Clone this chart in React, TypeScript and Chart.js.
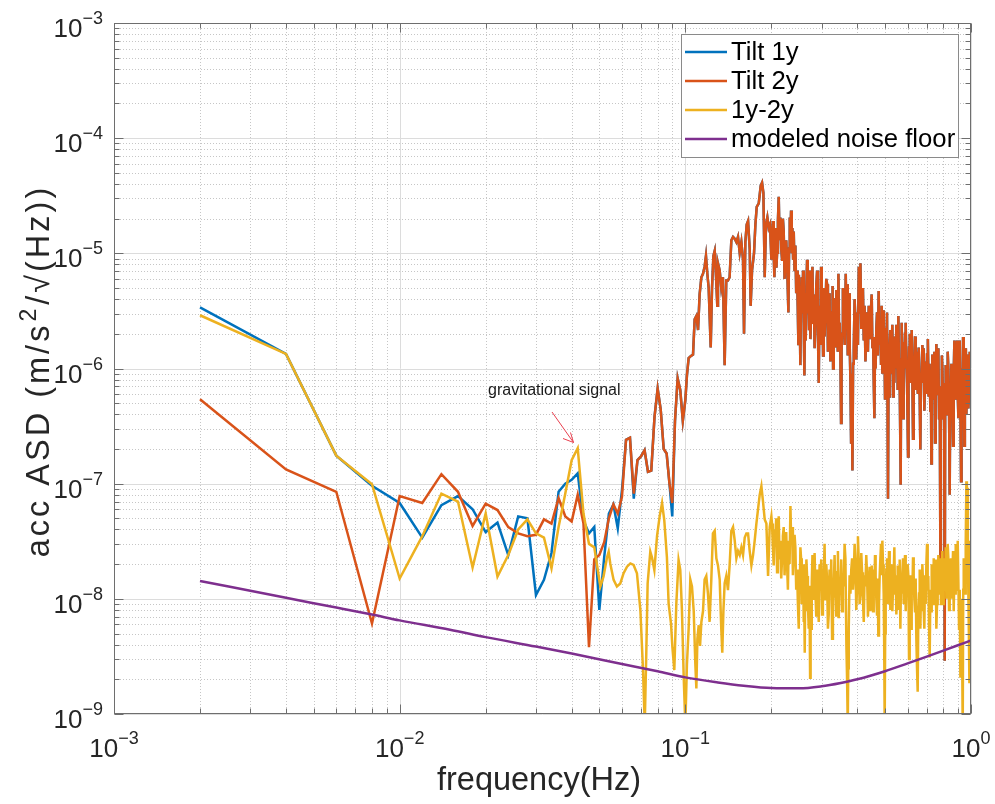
import { useEffect, useRef } from "react";
import { Chart, registerables } from "chart.js";

Chart.register(...registerables);

const FONT = '"Liberation Sans", Arial, Helvetica, sans-serif';

// ---------- data (frequency in Hz, ASD in m/s^2/sqrt(Hz)) ----------
const lowFreq = [
  0.002, 0.004, 0.006, 0.008, 0.01, 0.012, 0.014, 0.016, 0.018, 0.02,
  0.022, 0.024, 0.026, 0.028, 0.03, 0.032, 0.034, 0.036, 0.038, 0.04,
  0.042, 0.044, 0.046, 0.048, 0.05, 0.052, 0.054, 0.056, 0.058, 0.06,
  0.062, 0.064, 0.066, 0.068, 0.07, 0.072, 0.074, 0.076, 0.078, 0.08,
  0.082, 0.084, 0.086, 0.088, 0.09, 0.092, 0.094, 0.096, 0.098, 0.1,
];

const tilt1Low = [
  3.4e-6, 1.34e-6, 1.75e-7, 9.6e-8, 6.8e-8, 3.4e-8, 6.5e-8, 7.8e-8, 6.0e-8, 3.8e-8,
  4.6e-8, 2.4e-8, 5.2e-8, 5.0e-8, 1.08e-8, 1.46e-8, 2.5e-8, 8.5e-8, 1.0e-7, 1.08e-7,
  1.23e-7, 4.8e-8, 3.7e-8, 4.2e-8, 8.0e-9, 2.3e-8, 5.5e-8, 6.6e-8, 4.1e-8, 8.8e-8,
  2.4e-7, 2.5e-7, 7.4e-8, 1.6e-7, 1.73e-7, 1.95e-7, 1.27e-7, 1.3e-7, 3.8e-7, 6.7e-7,
  4.4e-7, 2.0e-7, 1.83e-7, 1.0e-7, 5.2e-8, 3.5e-7, 8.2e-7, 6.5e-7, 3.5e-7, 5.3e-7,
];

const tilt2Low = [
  5.4e-7, 1.33e-7, 8.5e-8, 6.1e-9, 7.8e-8, 6.8e-8, 1.21e-7, 8.5e-8, 4.3e-8, 6.7e-8,
  5.9e-8, 4.2e-8, 3.7e-8, 3.5e-8, 3.6e-8, 4.9e-8, 4.5e-8, 7.5e-8, 5.2e-8, 4.7e-8,
  8.0e-8, 4.5e-8, 3.8e-9, 2.2e-8, 2.4e-8, 3.1e-8, 5.0e-8, 6.6e-8, 5.5e-8, 7.7e-8,
  2.4e-7, 2.5e-7, 8.2e-8, 1.6e-7, 1.73e-7, 1.95e-7, 1.27e-7, 1.3e-7, 3.8e-7, 6.7e-7,
  4.4e-7, 2.0e-7, 1.83e-7, 1.0e-7, 6.8e-8, 3.5e-7, 8.2e-7, 6.5e-7, 3.5e-7, 5.3e-7,
];

// high-frequency part (Tilt 1y and Tilt 2y coincide above 0.1 Hz)
const highFreq = [
  0.1013, 0.1027, 0.1044, 0.1064, 0.1078, 0.1093, 0.1108, 0.1122, 0.1138, 0.1153,
  0.1168, 0.1181, 0.1194, 0.1207, 0.1227, 0.124, 0.1254, 0.1267, 0.1281, 0.1294,
  0.1301, 0.1319, 0.1336, 0.1354, 0.1373, 0.1391, 0.141, 0.1429, 0.1449, 0.1469,
  0.1489, 0.1509, 0.1529, 0.155, 0.1571, 0.1592, 0.1605, 0.1622, 0.164, 0.1658,
  0.168, 0.1693, 0.1712, 0.174, 0.1759, 0.1778, 0.1807, 0.1836, 0.1856, 0.1876,
  0.1896, 0.1916, 0.1937, 0.1958, 0.1979,
  0.2001, 0.2014, 0.2028, 0.2039, 0.205, 0.2061, 0.2072, 0.2084, 0.2095, 0.2109,
  0.2123, 0.2137, 0.2151, 0.2166, 0.2181, 0.2195, 0.221, 0.2225, 0.224, 0.2255,
  0.2271, 0.2283, 0.2295, 0.2308, 0.232, 0.2333, 0.2345, 0.2358, 0.237, 0.2383,
  0.2396, 0.2412, 0.2428, 0.2444, 0.2461, 0.2474, 0.2487, 0.2497, 0.2507, 0.2517,
  0.2527, 0.2541, 0.2555, 0.2569, 0.2583, 0.2597, 0.2611, 0.2625, 0.2639, 0.2653,
  0.2668, 0.2682, 0.2697, 0.2711, 0.2726, 0.2741, 0.2756, 0.2771, 0.2786, 0.2801,
  0.2816, 0.2835, 0.2854, 0.2873, 0.2893, 0.2912, 0.2931, 0.2943, 0.2955, 0.2971,
  0.2987, 0.3003, 0.3019, 0.3035, 0.3052, 0.3072, 0.3093, 0.3114, 0.3135, 0.3156,
  0.3177, 0.3198, 0.322, 0.3242, 0.3264, 0.3277, 0.329, 0.3308, 0.3326, 0.3344,
  0.3362, 0.338, 0.3398, 0.3417, 0.3435, 0.3454, 0.3472, 0.3491, 0.3509, 0.3523,
  0.3538, 0.3561, 0.3585, 0.3615, 0.3644, 0.3663, 0.3683, 0.3703, 0.3723, 0.3743,
  0.3763, 0.3783, 0.3804, 0.3825, 0.3845, 0.3866, 0.3887, 0.3913, 0.3939, 0.3966,
  0.3993, 0.402, 0.4047, 0.4074, 0.4102, 0.413, 0.4157, 0.4185, 0.4213, 0.4241,
  0.427, 0.4299, 0.4328, 0.4357, 0.4386, 0.4416, 0.4446,
  0.4492, 0.4516, 0.4541, 0.4565, 0.459, 0.4613, 0.4636, 0.4662, 0.4688, 0.4719,
  0.4751, 0.4783, 0.4816, 0.4842, 0.4868, 0.4894, 0.492, 0.4946, 0.4973, 0.5,
  0.5027, 0.5054, 0.5081, 0.5101, 0.5122, 0.5143, 0.5164, 0.5191, 0.5219, 0.5247,
  0.5275, 0.5304, 0.5333, 0.5362, 0.5391, 0.542, 0.5449, 0.5478, 0.5508, 0.5538,
  0.5568, 0.5598, 0.5628, 0.565, 0.5673, 0.5696, 0.5719, 0.575, 0.5781, 0.5812,
  0.5844, 0.5875, 0.5907, 0.5939, 0.5971, 0.5995, 0.602, 0.6044, 0.6068, 0.6101,
  0.6134, 0.6167, 0.6201, 0.6234, 0.6267, 0.6301, 0.6335, 0.6369, 0.6404, 0.6437,
  0.6471, 0.6515, 0.6559, 0.6603, 0.6648, 0.6684, 0.672, 0.6756, 0.6793, 0.6829,
  0.6865, 0.6902, 0.694, 0.6978, 0.7016, 0.7063, 0.711, 0.7158, 0.7207, 0.7236,
  0.7265, 0.7294, 0.7324, 0.7363, 0.7403, 0.7443, 0.7483, 0.7523, 0.7563, 0.7604,
  0.7645, 0.7686, 0.7728, 0.777, 0.7812, 0.7843, 0.7875, 0.7907, 0.7939, 0.7981,
  0.8024, 0.8057, 0.809, 0.8122, 0.8155, 0.82, 0.8244, 0.8288, 0.8332, 0.8377,
  0.8422, 0.8456, 0.849, 0.8536, 0.8582, 0.8617, 0.8652, 0.8699, 0.8746, 0.8793,
  0.8841, 0.8889, 0.8937, 0.8985, 0.9034, 0.9082, 0.913, 0.918, 0.923, 0.9267,
  0.9304, 0.9342, 0.938, 0.943, 0.948, 0.9518, 0.9557, 0.9595, 0.9634, 0.9686,
  0.9739, 0.9791, 0.9844, 0.9897, 0.9951, 1.0,
];

const tiltHigh = [
  8.7e-7, 1.23e-6, 1.28e-6, 1.32e-6, 2.67e-6, 2.86e-6, 2.16e-6, 4.4e-6, 6.2e-6, 6.65e-6,
  7.65e-6, 9.5e-6, 6.65e-6, 5.0e-6, 1.52e-6, 5.0e-6, 9.5e-6, 1.05e-5, 6.2e-6, 3.5e-6,
  8.2e-6, 7.1e-6, 5.0e-6, 6.2e-6, 1.07e-6, 5.8e-6, 5.8e-6, 6.2e-6, 1.3e-5, 1.39e-5,
  1.34e-5, 1.25e-5, 1.39e-5, 1.01e-5, 1.25e-5, 8.8e-6, 2.0e-6, 1.25e-5, 1.78e-5, 1.91e-5,
  1.09e-5, 3.5e-6, 7.1e-6, 1.01e-5, 1.78e-5, 2.53e-5, 2.71e-5, 3.85e-5, 4.1e-5, 3.35e-5,
  6.2e-6, 1.78e-5, 2.05e-5, 1.66e-5, 1.78e-5,
  8.8e-6, 1.4e-5, 1.91e-5, 9.5e-6, 6.2e-6, 1.2e-5, 1.66e-5, 7.5e-6, 1.01e-5, 1.9e-5,
  3.1e-5, 1.3e-5, 2.05e-5, 1.1e-5, 8.8e-6, 2.0e-5, 1.55e-5, 6.0e-6, 8.8e-6, 1.3e-5,
  8.2e-6, 5.0e-6, 3.07e-6, 1.1e-5, 2.05e-5, 1.4e-5, 2.35e-5, 1.0e-5, 1.66e-5, 9.0e-6,
  1.55e-5, 7.0e-6, 1.17e-5, 4.5e-6, 7.1e-6, 3.5e-6, 1.63e-6, 6.5e-6, 4.7e-6, 2.5e-6,
  1.07e-6, 4.0e-6, 6.2e-6, 3.0e-6, 7.1e-6, 2.5e-6, 8.7e-7, 4.5e-6, 1.75e-6, 5.0e-6,
  8.8e-6, 3.0e-6, 5.0e-6, 2.2e-6, 7.1e-6, 1.8e-6, 3.07e-6, 5.5e-6, 7.65e-6, 2.5e-6,
  4.4e-6, 1.5e-6, 2.67e-6, 5.2e-6, 7.1e-6, 2.0e-6, 7.5e-7, 2.2e-6, 3.5e-6, 1.6e-6,
  7.65e-6, 2.8e-6, 4.07e-6, 1.3e-6, 5.0e-6, 1.9e-6, 3.07e-6, 6.0e-6, 5.4e-6, 1.4e-6,
  2.3e-6, 4.5e-6, 1.15e-6, 2.6e-6, 3.07e-6, 5.2e-6, 1.0e-6, 2.3e-6, 4.07e-6, 2.0e-6,
  1.52e-6, 4.8e-6, 3.5e-6, 1.4e-6, 6.65e-6, 1.8e-6, 2.5e-6, 1.2e-6, 3.36e-7, 1.4e-6,
  2.0e-6, 5.0e-6, 3.8e-6, 1.6e-6, 6.65e-6, 2.4e-6, 5.4e-6, 1.3e-6, 3.07e-6, 4.5e-6,
  1.52e-6, 8.0e-7, 2.28e-7, 9.0e-7, 1.3e-7, 1.1e-6, 1.52e-6, 4.0e-6, 2.67e-6, 1.2e-6,
  3.07e-6, 1.6e-6, 7.65e-6, 3.0e-6, 8.2e-6, 2.2e-6, 3.07e-6, 5.0e-6, 1.75e-6, 3.5e-6,
  1.15e-6, 2.0e-6, 3.07e-6, 1.4e-6, 3.5e-6, 1.8e-6, 2.67e-6,
  4.4e-6, 1.5e-6, 1.88e-6, 8.0e-7, 3.7e-7, 1.5e-6, 1.0e-6, 2.2e-6, 3.07e-6, 1.3e-6,
  4.7e-6, 1.6e-6, 2.67e-6, 1.1e-6, 3.5e-6, 9.0e-7, 1.52e-6, 3.2e-6, 1.75e-6, 5.5e-7,
  7.5e-7, 2.2e-6, 3.07e-6, 6.0e-7, 7.4e-8, 8.0e-7, 5.7e-7, 1.6e-6, 2.16e-6, 9.0e-7,
  1.52e-6, 2.4e-6, 5.7e-7, 1.3e-6, 7.5e-7, 1.9e-6, 1.0e-6, 2.4e-6, 1.75e-6, 6.5e-7,
  2.86e-6, 1.1e-6, 7.5e-7, 3.0e-7, 9.8e-8, 1.2e-6, 2.5e-6, 9.0e-7, 3.7e-7, 1.7e-6,
  1.0e-6, 2.0e-6, 2.5e-6, 1.1e-6, 7.5e-7, 4.0e-7, 1.72e-7, 8.0e-7, 1.52e-6, 2.0e-6,
  7.5e-7, 1.3e-6, 2.16e-6, 8.0e-7, 2.45e-7, 6.5e-7, 1.07e-6, 1.9e-6, 6.5e-7, 1.4e-6,
  1.0e-6, 6.0e-7, 1.52e-6, 8.0e-7, 1.98e-7, 9.0e-7, 7.5e-7, 1.6e-6, 1.0e-6, 1.5e-6,
  4.3e-7, 8.0e-7, 1.15e-6, 6.0e-7, 1.32e-6, 1.8e-6, 5.7e-7, 1.1e-6, 4.3e-7, 9.0e-7,
  1.5e-7, 6.0e-7, 1.32e-6, 5.5e-7, 7.5e-7, 1.4e-6, 2.28e-7, 8.0e-7, 1.63e-6, 6.0e-7,
  1.0e-6, 1.5e-6, 3.7e-7, 7.0e-7, 2.25e-8, 5.0e-7, 3.7e-7, 1.3e-6, 1.0e-6, 5.0e-7,
  7.5e-7, 3.0e-7, 2.9e-9, 5.0e-7, 1.07e-6, 6.0e-7, 4.0e-7, 1.4e-6, 1.0e-6, 4.5e-7,
  8.0e-8, 6.0e-7, 3.7e-7, 1.1e-6, 7.5e-7, 4.0e-7, 2.13e-7, 9.0e-7, 1.75e-6, 5.5e-7,
  7.5e-7, 1.2e-6, 1.75e-6, 6.0e-7, 3.7e-7, 9.0e-7, 1.75e-6, 5.0e-7, 1.05e-7, 6.0e-7,
  1.0e-6, 5.0e-7, 1.88e-6, 7.0e-7, 2.13e-7, 9.0e-7, 7.5e-7, 1.5e-6, 4.0e-7, 8.0e-7,
  1.32e-6, 4.5e-7, 7.5e-7, 1.4e-6, 5.7e-7, 6.0e-7,
];

const diffFreq = [
  0.002, 0.004, 0.006, 0.008, 0.01, 0.012, 0.014, 0.016, 0.018, 0.02,
  0.022, 0.024, 0.026, 0.028, 0.03, 0.032, 0.034, 0.036, 0.038, 0.04,
  0.042, 0.044, 0.046, 0.048,
  0.0504, 0.0517, 0.0532, 0.0539, 0.0546, 0.0561, 0.0576, 0.0592, 0.0608, 0.0625,
  0.0642, 0.0659, 0.0677, 0.0696, 0.0711, 0.0721, 0.073, 0.0738, 0.0754, 0.0764,
  0.0779, 0.0796, 0.0813, 0.0829, 0.0844, 0.0862, 0.0874, 0.0891, 0.0901, 0.0915,
  0.093, 0.0947, 0.096, 0.0973, 0.0987, 0.1,
  0.1013, 0.1027, 0.1041, 0.1055, 0.107, 0.1084, 0.1093, 0.1102, 0.1114, 0.1126,
  0.1138, 0.1153, 0.1168, 0.1184, 0.12, 0.1216, 0.1233, 0.1249, 0.1267, 0.1284,
  0.1301, 0.1319, 0.1336, 0.1347, 0.1359, 0.1373, 0.1391, 0.141, 0.1429, 0.1449,
  0.1469, 0.1489, 0.1509, 0.1529, 0.155, 0.1571, 0.1592, 0.1614, 0.1636, 0.1658,
  0.168, 0.1703, 0.1726, 0.1749, 0.1773, 0.1797, 0.1821, 0.1846, 0.1871, 0.1896,
  0.1922, 0.1948, 0.1974,
  0.2001, 0.2011, 0.2025, 0.2039, 0.2052, 0.2066, 0.208, 0.2095, 0.2109, 0.2123,
  0.2137, 0.2151, 0.2166, 0.2181, 0.2195, 0.221, 0.2225, 0.224, 0.2255, 0.2271,
  0.2286, 0.2301, 0.2317, 0.2333, 0.2348, 0.2364, 0.238, 0.2396, 0.2412, 0.2428,
  0.2444, 0.2461, 0.2478, 0.2495, 0.2505, 0.2515, 0.2528, 0.2542, 0.2556, 0.257,
  0.2583, 0.2597, 0.2607, 0.2618, 0.2628, 0.2639, 0.2653, 0.2668, 0.2686, 0.2704,
  0.2719, 0.2734, 0.2745, 0.2756, 0.2771, 0.2786, 0.2801, 0.2816, 0.2835, 0.2854,
  0.2873, 0.2893, 0.2912, 0.2931, 0.2951, 0.2971, 0.2991, 0.3011, 0.3031, 0.3052,
  0.3072, 0.3093, 0.3114, 0.3135, 0.3156, 0.3177, 0.3198, 0.322, 0.3242, 0.3264,
  0.3286, 0.3308, 0.333, 0.3353, 0.3375, 0.3398, 0.3421, 0.3444, 0.3467, 0.3491,
  0.3514, 0.3538, 0.3561, 0.3585, 0.361, 0.3634, 0.3663, 0.3683, 0.3703, 0.3718,
  0.3733, 0.3758, 0.3784, 0.381, 0.3835, 0.3861, 0.3887, 0.3913, 0.3939, 0.3966,
  0.3993, 0.402, 0.4047, 0.4074, 0.4102, 0.413, 0.4157, 0.4185, 0.4213, 0.4241,
  0.427, 0.4299, 0.4328, 0.4357, 0.4386, 0.4416, 0.4446,
  0.4492, 0.4516, 0.4541, 0.4565, 0.459, 0.4613, 0.4636, 0.4662, 0.4688, 0.4713,
  0.4738, 0.4763, 0.4789, 0.4815, 0.4842, 0.4868, 0.4894, 0.492, 0.4947, 0.4967,
  0.4987, 0.5007, 0.5027, 0.5054, 0.5081, 0.5108, 0.5136, 0.5164, 0.5192, 0.522,
  0.5249, 0.5277, 0.5306, 0.5334, 0.5362, 0.5391, 0.542, 0.5449, 0.5479, 0.5508,
  0.5537, 0.5567, 0.5598, 0.5628, 0.5659, 0.5689, 0.5719, 0.575, 0.5781, 0.5812,
  0.5844, 0.5875, 0.5907, 0.5939, 0.5971, 0.6003, 0.6036, 0.6068, 0.6101, 0.6133,
  0.6166, 0.62, 0.6233, 0.6267, 0.6301, 0.6334, 0.6368, 0.6402, 0.6437, 0.6472,
  0.6507, 0.6542, 0.6578, 0.6613, 0.6648, 0.6684, 0.672, 0.6756, 0.6793, 0.6829,
  0.6865, 0.6902, 0.694, 0.6978, 0.7016, 0.7053, 0.709, 0.7129, 0.7168, 0.7207,
  0.7246, 0.7285, 0.7324, 0.7363, 0.7403, 0.7443, 0.7483, 0.7523, 0.7563, 0.7604,
  0.7645, 0.7686, 0.7728, 0.777, 0.7812, 0.7853, 0.7895, 0.7938, 0.7981, 0.8024,
  0.8068, 0.8111, 0.8155, 0.82, 0.8244, 0.8288, 0.8332, 0.8377, 0.8422, 0.8467,
  0.8513, 0.856, 0.8606, 0.8652, 0.8698, 0.8745, 0.8793, 0.884, 0.8888, 0.8936,
  0.8985, 0.9033, 0.9081, 0.913, 0.918, 0.9229, 0.9279, 0.9316, 0.9354, 0.9392,
  0.943, 0.9481, 0.9532, 0.9583, 0.9634, 0.9673, 0.9712, 0.9751, 0.979, 0.983,
  0.987, 0.991, 0.9951, 1.0,
];

const diffVal = [
  2.9e-6, 1.34e-6, 1.75e-7, 9.9e-8, 1.5e-8, 3.5e-8, 8.2e-8, 7.0e-8, 1.87e-8, 5.5e-8,
  1.56e-8, 2.4e-8, 4.0e-8, 4.9e-8, 3.7e-8, 3.4e-8, 1.84e-8, 4.2e-8, 8.2e-8, 1.6e-7,
  2.03e-7, 5.5e-8, 3.0e-8, 2.8e-8,
  1.28e-8, 1.56e-8, 2.3e-8, 2.57e-8, 2.03e-8, 1.46e-8, 1.28e-8, 1.36e-8, 1.67e-8, 1.9e-8,
  2.03e-8, 1.97e-8, 1.67e-8, 8.0e-9, 2.4e-9, 8e-10, 3.4e-9, 1.36e-8, 2.57e-8, 2.3e-8,
  1.78e-8, 3.5e-8, 5.2e-8, 6.8e-8, 4.8e-8, 2.3e-8, 9.1e-9, 6.1e-9, 3.8e-9, 2.4e-9,
  9.1e-9, 2.17e-8, 1.78e-8, 8.0e-9, 2.1e-9, 8e-10,
  2.7e-9, 5.5e-9, 1.47e-8, 1.28e-8, 7.8e-9, 2.7e-9, 1.67e-9, 4.5e-9, 5.9e-9, 3.9e-9,
  6.3e-9, 7.8e-9, 1.47e-8, 1.58e-8, 1.11e-8, 6.3e-9, 1.47e-8, 3.7e-8, 3.9e-8, 2.25e-8,
  1.95e-8, 1.47e-8, 5.5e-9, 3.4e-9, 7.8e-9, 1.37e-8, 1.58e-8, 1.19e-8, 1.95e-8, 3.9e-8,
  4.2e-8, 3.2e-8, 2.25e-8, 2.6e-8, 2.4e-8, 2.8e-8, 2.4e-8, 3.4e-8, 3.7e-8, 3.7e-8,
  2.6e-8, 1.95e-8, 2.4e-8, 3.2e-8, 4.5e-8, 6.0e-8, 8.0e-8, 9.5e-8, 6.9e-8, 4.9e-8,
  4.5e-8, 1.58e-8, 4.2e-8,
  5.2e-8, 4.5e-8, 2.8e-8, 1.95e-8, 4.0e-8, 3.2e-8, 5.0e-8, 1.7e-8, 3.0e-8, 5.2e-8,
  2.2e-8, 3.2e-8, 1.5e-8, 2.25e-8, 3.5e-8, 4.2e-8, 1.6e-8, 2.4e-8, 3.8e-8, 1.95e-8,
  1.2e-8, 3.2e-8, 2.0e-8, 6.4e-8, 3.0e-8, 4.2e-8, 1.6e-8, 2.6e-8, 3.6e-8, 2.8e-8,
  1.2e-8, 1.8e-8, 9.0e-9, 5.5e-9, 1.6e-8, 1.11e-8, 2.8e-8, 2.25e-8, 9.0e-9, 1.28e-8,
  2.0e-8, 6.3e-9, 1.0e-8, 3.4e-9, 1.2e-8, 7.8e-9, 2.2e-8, 1.58e-8, 9.0e-9, 5.5e-9,
  1.3e-8, 2.06e-9, 9.0e-9, 5.5e-9, 1.4e-8, 2.4e-8, 1.0e-8, 1.58e-8, 2.5e-8, 1.11e-8,
  7.0e-9, 1.8e-8, 1.1e-8, 6.3e-9, 2.0e-8, 1.37e-8, 2.2e-8, 7.3e-9, 1.2e-8, 1.58e-8,
  3.0e-8, 9.7e-9, 2.0e-8, 1.47e-8, 5.5e-9, 7.3e-9, 1.8e-8, 1.11e-8, 2.2e-8, 4.5e-9,
  1.0e-8, 1.28e-8, 2.4e-8, 1.11e-8, 7.0e-9, 1.7e-8, 2.6e-8, 6.8e-9, 1.4e-8, 1.19e-8,
  2.2e-8, 7.8e-9, 1.6e-8, 1.28e-8, 3.0e-8, 2.25e-8, 3.9e-9, 2.0e-9, 8e-10, 2.5e-9,
  5.5e-9, 1.6e-8, 1.11e-8, 1.8e-8, 2.25e-8, 1.2e-8, 1.58e-8, 3.0e-8, 2.25e-8, 8.0e-9,
  1.28e-8, 3.5e-8, 2.1e-8, 9.0e-9, 1.11e-8, 2.5e-8, 1.7e-8, 1.0e-8, 6.3e-9, 1.6e-8,
  1.28e-8, 2.4e-8, 1.58e-8, 7.0e-9, 1.11e-8, 1.9e-8, 7.8e-9,
  1.95e-8, 1.2e-8, 7.8e-9, 1.8e-8, 1.11e-8, 2.4e-8, 1.58e-8, 1.0e-8, 7.3e-9, 1.5e-8,
  4.8e-9, 9.0e-9, 1.58e-8, 2.2e-8, 3.0e-8, 1.6e-8, 3.2e-8, 2.0e-8, 1.11e-8, 4.0e-9,
  8e-10, 5.0e-9, 1.11e-8, 1.8e-8, 2.25e-8, 9.0e-9, 1.28e-8, 2.6e-8, 1.8e-8, 8.0e-9,
  1.11e-8, 2.0e-8, 7.8e-9, 1.3e-8, 1.58e-8, 2.8e-8, 1.11e-8, 1.6e-8, 7.3e-9, 1.3e-8,
  1.95e-8, 8.0e-9, 1.28e-8, 2.2e-8, 5.5e-9, 1.5e-8, 1.11e-8, 1.7e-8, 2.25e-8, 9.0e-9,
  1.58e-8, 2.4e-8, 7.8e-9, 1.4e-8, 1.11e-8, 2.0e-8, 1.58e-8, 3.0e-9, 7.8e-9, 1.6e-8,
  5.5e-9, 1.4e-8, 1.11e-8, 2.3e-8, 1.58e-8, 1.0e-8, 7.8e-9, 1.5e-8, 4.5e-9, 2.5e-9,
  1.56e-9, 8.0e-9, 1.11e-8, 1.8e-8, 5.5e-9, 1.2e-8, 7.8e-9, 2.0e-8, 1.37e-8, 8.0e-9,
  5.5e-9, 1.6e-8, 9.0e-9, 2.0e-8, 3.0e-8, 1.2e-8, 1.58e-8, 6.0e-9, 3.1e-9, 1.2e-8,
  7.8e-9, 2.0e-8, 1.58e-8, 9.0e-9, 2.25e-8, 1.4e-8, 1.11e-8, 2.2e-8, 5.5e-9, 9.0e-9,
  1.37e-8, 2.4e-8, 1.11e-8, 1.6e-8, 2.25e-8, 9.0e-9, 1.58e-8, 2.6e-8, 9.0e-9, 1.5e-8,
  2.25e-8, 1.2e-8, 2.8e-8, 1.0e-8, 1.58e-8, 3.0e-8, 2.25e-8, 8.0e-9, 1.11e-8, 2.0e-8,
  2.25e-8, 1.0e-8, 1.58e-8, 2.6e-8, 7.8e-9, 1.6e-8, 1.11e-8, 3.0e-8, 2.6e-8, 1.2e-8,
  3.2e-8, 1.4e-8, 5.5e-9, 1.2e-8, 2.06e-9, 1.0e-8, 7.8e-9, 3.0e-9, 7e-10, 1.2e-8,
  2.25e-8, 1.4e-8, 1.11e-8, 3.0e-8, 1.05e-7, 4.0e-8, 9.2e-8, 2.5e-8, 1.11e-8, 5.0e-9,
  1.9e-9, 1.5e-8, 3.2e-8, 2.5e-8,
];

const floorFreq = [
  0.002, 0.004, 0.006, 0.008, 0.01, 0.015, 0.02, 0.03, 0.04, 0.06, 0.08, 0.1, 0.13,
  0.16, 0.2, 0.25, 0.3, 0.35, 0.4, 0.5, 0.6, 0.7, 0.8, 0.9, 1.0,
];
const floorVal = [
  1.43e-8, 1.02e-8, 8.4e-9, 7.3e-9, 6.5e-9, 5.4e-9, 4.65e-9, 3.85e-9, 3.35e-9, 2.72e-9,
  2.35e-9, 2.08e-9, 1.88e-9, 1.76e-9, 1.68e-9, 1.67e-9, 1.74e-9, 1.86e-9, 2.0e-9,
  2.35e-9, 2.75e-9, 3.15e-9, 3.55e-9, 3.95e-9, 4.35e-9,
];

const seriesNames = ["Tilt 1y", "Tilt 2y", "1y-2y", "modeled noise floor"];
const seriesColors = ["#0072BD", "#D95319", "#EDB120", "#7E2F8E"];

const xDecades = [-3, -2, -1, 0];
const yDecades = [-9, -8, -7, -6, -5, -4, -3];
const xTitle = "frequency(Hz)";
const yTitleParts = ["acc ASD (m/s", "2", "/\u221A(Hz))"];
const annotationText = "gravitational signal";

function pts(f: number[], v: number[]) {
  return f.map((x, i) => ({ x, y: v[i] }));
}

function powLabel(ctx: CanvasRenderingContext2D, x: number, y: number, exp: number, align: "center" | "right") {
  const base = "10";
  const sup = exp < 0 ? "\u2212" + Math.abs(exp) : String(exp);
  ctx.font = `26px ${FONT}`;
  const wb = ctx.measureText(base).width;
  ctx.font = `18px ${FONT}`;
  const ws = ctx.measureText(sup).width;
  const total = wb + ws;
  const left = align === "center" ? x - total / 2 : x - total;
  ctx.textAlign = "left";
  ctx.textBaseline = "alphabetic";
  ctx.font = `26px ${FONT}`;
  ctx.fillText(base, left, y);
  ctx.font = `18px ${FONT}`;
  ctx.fillText(sup, left + wb, y - 13);
}

const matlabAxes = {
  id: "matlabAxes",
  beforeDatasetsDraw(chart: any) {
    const { ctx, chartArea: a, scales } = chart;
    const xs = scales.x;
    const ys = scales.y;
    ctx.save();
    ctx.lineWidth = 1;
    ctx.strokeStyle = "#c6c6c6";
    ctx.setLineDash([1, 2]);
    ctx.beginPath();
    for (const d of xDecades.slice(0, -1)) {
      for (let m = 2; m <= 9; m++) {
        const px = Math.round(xs.getPixelForValue(m * Math.pow(10, d))) + 0.5;
        ctx.moveTo(px, a.top);
        ctx.lineTo(px, a.bottom);
      }
    }
    for (const d of yDecades.slice(0, -1)) {
      for (let m = 2; m <= 9; m++) {
        const py = Math.round(ys.getPixelForValue(m * Math.pow(10, d))) + 0.5;
        ctx.moveTo(a.left, py);
        ctx.lineTo(a.right, py);
      }
    }
    ctx.stroke();
    ctx.setLineDash([]);
    ctx.strokeStyle = "#dcdcdc";
    ctx.beginPath();
    for (const d of xDecades) {
      const px = Math.round(xs.getPixelForValue(Math.pow(10, d))) + 0.5;
      ctx.moveTo(px, a.top);
      ctx.lineTo(px, a.bottom);
    }
    for (const d of yDecades) {
      const py = Math.round(ys.getPixelForValue(Math.pow(10, d))) + 0.5;
      ctx.moveTo(a.left, py);
      ctx.lineTo(a.right, py);
    }
    ctx.stroke();
    ctx.restore();
  },
  afterDatasetsDraw(chart: any) {
    const { ctx, chartArea: a, scales } = chart;
    const xs = scales.x;
    const ys = scales.y;
    ctx.save();
    // frame
    ctx.strokeStyle = "#6e6e6e";
    ctx.lineWidth = 1;
    const L = Math.round(a.left) + 0.5;
    const R = Math.round(a.right) - 0.5;
    const T = Math.round(a.top) + 0.5;
    const B = Math.round(a.bottom) - 0.5;
    ctx.strokeRect(L, T, R - L, B - T);
    // ticks (inside, all four sides)
    ctx.beginPath();
    for (const d of xDecades) {
      for (let m = 1; m <= 9; m++) {
        if (d === 0 && m > 1) break;
        const len = m === 1 ? 9 : 5;
        const px = Math.round(xs.getPixelForValue(m * Math.pow(10, d))) + 0.5;
        ctx.moveTo(px, B);
        ctx.lineTo(px, B - len);
        ctx.moveTo(px, T);
        ctx.lineTo(px, T + len);
      }
    }
    for (const d of yDecades) {
      for (let m = 1; m <= 9; m++) {
        if (d === -3 && m > 1) break;
        const len = m === 1 ? 9 : 5;
        const py = Math.round(ys.getPixelForValue(m * Math.pow(10, d))) + 0.5;
        ctx.moveTo(L, py);
        ctx.lineTo(L + len, py);
        ctx.moveTo(R, py);
        ctx.lineTo(R - len, py);
      }
    }
    ctx.stroke();
    // tick labels
    ctx.fillStyle = "#262626";
    for (const d of xDecades) {
      powLabel(ctx, xs.getPixelForValue(Math.pow(10, d)), 757, d, "center");
    }
    for (const d of yDecades) {
      powLabel(ctx, 103, ys.getPixelForValue(Math.pow(10, d)) + 14, d, "right");
    }
    // axis titles
    ctx.font = `32.5px ${FONT}`;
    ctx.textAlign = "center";
    ctx.textBaseline = "middle";
    ctx.fillText(xTitle, 539, 781);
    ctx.save();
    ctx.translate(38, 371);
    ctx.rotate(-Math.PI / 2);
    ctx.textAlign = "left";
    ctx.textBaseline = "alphabetic";
    (ctx as any).letterSpacing = "3px";
    const big = `32.5px ${FONT}`;
    const small = `23px ${FONT}`;
    ctx.font = big;
    const w0 = ctx.measureText(yTitleParts[0]).width;
    const w2 = ctx.measureText(yTitleParts[2]).width;
    ctx.font = small;
    const w1 = ctx.measureText(yTitleParts[1]).width;
    const gap = 1;
    const total = w0 + w1 + w2 + 2 * gap;
    let cx = -total / 2;
    const base = 11;
    ctx.font = big;
    ctx.fillText(yTitleParts[0], cx, base);
    cx += w0 + gap;
    ctx.font = small;
    ctx.fillText(yTitleParts[1], cx, base - 13);
    cx += w1 + gap;
    ctx.font = big;
    ctx.fillText(yTitleParts[2], cx, base);
    (ctx as any).letterSpacing = "0px";
    ctx.restore();
    // annotation
    ctx.font = `16px ${FONT}`;
    ctx.textAlign = "left";
    ctx.textBaseline = "alphabetic";
    ctx.fillStyle = "#1a1a1a";
    ctx.fillText(annotationText, 488, 395);
    ctx.strokeStyle = "#e8404f";
    ctx.lineWidth = 1;
    ctx.beginPath();
    ctx.moveTo(552, 412);
    ctx.lineTo(573.5, 442.5);
    ctx.moveTo(563, 438.5);
    ctx.lineTo(573.5, 442.5);
    ctx.lineTo(570.5, 432.5);
    ctx.stroke();
    // legend
    ctx.fillStyle = "#ffffff";
    ctx.fillRect(681, 34, 277, 123);
    ctx.strokeStyle = "#8a8a8a";
    ctx.strokeRect(681.5, 34.5, 277, 123);
    const rows = [52, 81, 110, 139];
    ctx.font = `25.7px ${FONT}`;
    ctx.textBaseline = "middle";
    seriesNames.forEach((name, i) => {
      ctx.strokeStyle = seriesColors[i];
      ctx.lineWidth = 2.5;
      ctx.beginPath();
      ctx.moveTo(685, rows[i]);
      ctx.lineTo(727, rows[i]);
      ctx.stroke();
      ctx.fillStyle = "#000000";
      ctx.fillText(name, 731, rows[i] + 1);
    });
    ctx.restore();
  },
};

export default function App() {
  const ref = useRef<HTMLCanvasElement>(null);
  useEffect(() => {
    document.body.style.margin = "0";
    const canvas = ref.current!;
    const line = (i: number, data: { x: number; y: number }[], order: number, smooth = false) => ({
      label: seriesNames[i],
      data,
      borderColor: seriesColors[i],
      backgroundColor: seriesColors[i],
      borderWidth: 2.5,
      pointRadius: 0,
      fill: false,
      tension: smooth ? 0.4 : 0,
      cubicInterpolationMode: smooth ? ("monotone" as const) : ("default" as const),
      order,
    });
    const chart = new Chart(canvas, {
      type: "line",
      data: {
        datasets: [
          line(0, pts([...lowFreq, ...highFreq], [...tilt1Low, ...tiltHigh]), 4),
          line(1, pts([...lowFreq, ...highFreq], [...tilt2Low, ...tiltHigh]), 3),
          line(2, pts(diffFreq, diffVal), 2),
          line(3, pts(floorFreq, floorVal), 1, true),
        ],
      },
      options: {
        animation: false,
        responsive: true,
        maintainAspectRatio: false,
        devicePixelRatio: 1,
        layout: { padding: { left: 114, top: 23, right: 24, bottom: 90 } },
        scales: {
          x: { type: "logarithmic", min: 1e-3, max: 1, display: false },
          y: { type: "logarithmic", min: 1e-9, max: 1e-3, display: false },
        },
        plugins: { legend: { display: false }, tooltip: { enabled: false } },
        events: [],
      },
      plugins: [matlabAxes],
    });
    return () => chart.destroy();
  }, []);
  return (
    <div style={{ position: "relative", width: 995, height: 804, background: "#ffffff" }}>
      <canvas ref={ref} />
    </div>
  );
}
